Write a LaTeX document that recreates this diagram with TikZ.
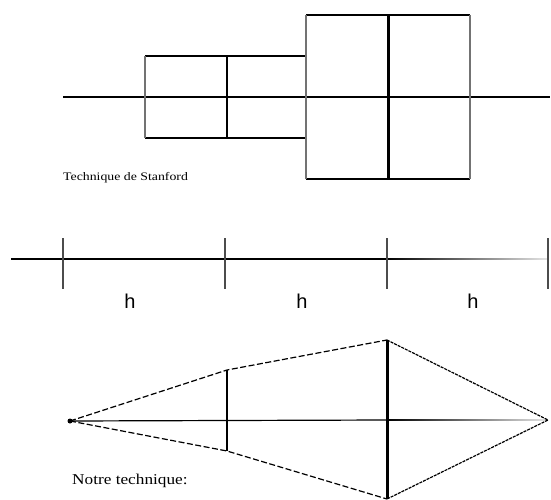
\documentclass[tikz,border=0pt]{standalone}
\usepackage{fontspec}
\setmainfont{Liberation Serif}
\setsansfont{Liberation Sans}
\begin{document}
\begin{tikzpicture}[x=1pt,y=-1pt,
  ln/.style={line width=1.2pt,black},
  edge/.style={line width=1.1pt,black!55},
  thick1/.style={line width=2.6pt,black},
  thick2/.style={line width=3pt,black},
  tickln/.style={line width=1.2pt,black!70},
  dsh/.style={line width=1.2pt,dash pattern=on 6pt off 2.5pt},
  fdsh/.style={line width=1.2pt,dash pattern=on 3pt off 1pt},
  hlab/.style={font=\sffamily\fontsize{20}{20}\selectfont,inner sep=0pt},
  captxt/.style={inner sep=0pt,anchor=base west}]
\useasboundingbox (0,0) rectangle (551,500);
% ---- top: Stanford ----
\coordinate (a0) at (63,97);
\coordinate (a1) at (550,97);
\draw[ln] (a0) -- (a1);
\coordinate (s1) at (145,56);
\coordinate (s2) at (306,56);
\coordinate (s3) at (306,138);
\coordinate (s4) at (145,138);
\draw[ln] (s1) -- (s2) (s4) -- (s3);
\draw[edge] (s1) -- (s4);
\coordinate (st) at (227,56);
\coordinate (sb) at (227,138);
\draw[thick1] (st) -- (sb);
\coordinate (b1) at (306,15);
\coordinate (b2) at (470,15);
\coordinate (b3) at (470,179);
\coordinate (b4) at (306,179);
\draw[ln] (b1) -- (b2) (b4) -- (b3);
\draw[edge] (b1) -- (b4) (b2) -- (b3);
\coordinate (bt) at (388,15);
\coordinate (bb) at (388,179);
\draw[thick2] (bt) -- (bb);
\node[captxt,font=\fontsize{11.5}{11.5}\selectfont] (stan) at (63,180) {\scalebox{1.2}[1]{Technique de Stanford}};
% ---- middle: h ----
\coordinate (m0) at (11,259);
\coordinate (m3) at (387,259);
\coordinate (m4) at (548,259);
\draw[ln] (m0) -- (m3);
\shade[left color=black, right color=black!10] (387,258.4) rectangle (548,259.6);
\foreach \x/\n in {63/t1,225/t2,387/t3,548/t4}{
  \coordinate (\n a) at (\x,238);
  \coordinate (\n b) at (\x,289);
  \draw[tickln] (\n a) -- (\n b);
}
\node[hlab] (h1) at (130,301) {h};
\node[hlab] (h2) at (302,301) {h};
\node[hlab] (h3) at (473,301) {h};
% ---- bottom: notre technique ----
\coordinate (L) at (70,421);
\coordinate (R) at (548,420);
\coordinate (ut) at (227,370);
\coordinate (ub) at (227,451);
\coordinate (vt) at (387,340);
\coordinate (vb) at (387,499);
\draw[ln] (L) -- (387,420);
\shade[left color=black, right color=black!10] (387,419.4) rectangle (548,420.6);
\draw[dsh] (L) -- (ut) -- (vt);
\draw[dsh] (L) -- (ub) -- (vb);
\draw[fdsh] (vt) -- (R) -- (vb);
\draw[thick1] (ut) -- (ub);
\draw[thick2] (vt) -- (vb);
\fill (L) circle (2.5pt);
\node[captxt,font=\fontsize{15}{15}\selectfont] (notre) at (72,484) {\scalebox{1.15}[1]{Notre technique:}};
\end{tikzpicture}
\end{document}
